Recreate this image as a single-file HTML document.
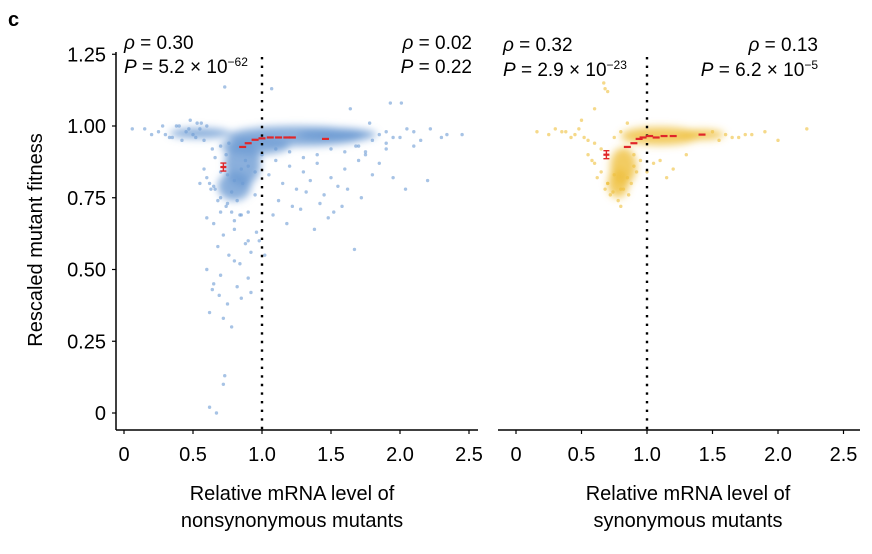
<!DOCTYPE html>
<html><head><meta charset="utf-8"><style>
body{margin:0;background:#fff;}
svg{display:block;font-family:"Liberation Sans",Arial,sans-serif;}
</style></head><body>
<svg id="chart" width="872" height="554" viewBox="0 0 872 554">
<defs><filter id="blur" x="-50%" y="-50%" width="200%" height="200%"><feGaussianBlur stdDeviation="4"/></filter></defs>
<text x="8" y="26" font-size="20" font-weight="bold">c</text>
<text transform="translate(42,240) rotate(-90)" text-anchor="middle" font-size="20">Rescaled mutant fitness</text>
<g id="left"></g>
<g id="right"></g>
</svg>
<script>
const xTicks=[0,0.5,1.0,1.5,2.0,2.5];
const xTickLabels=["0","0.5","1.0","1.5","2.0","2.5"];
const yTicks=[0,0.25,0.5,0.75,1.0,1.25];
const yTickLabels=["0","0.25","0.50","0.75","1.00","1.25"];
const blueX=[0.73,1.07,1.93,2.01,1.64,0.06,2.45,2.34,2.22,2.04,2.2,1.67,0.64,0.69,0.78,0.73,0.72,0.62,0.67,0.15,0.25,0.3,0.38,0.45,0.5,0.55,0.6,0.35,0.42,0.52,1.8,1.9,2.0,2.1,1.75,1.85,1.95,0.58,0.62,0.66,0.7,0.74,0.78,0.82,0.86,0.9,0.95,0.6,0.65,0.7,0.75,0.8,0.85,0.9,0.68,0.72,0.76,0.8,0.84,0.88,0.92,0.96,1.1,1.2,1.3,1.4,1.5,1.6,1.7,1.8,1.15,1.25,1.35,1.45,1.55,1.05,1.12,1.22,1.32,1.42,1.52,1.62,1.72,0.55,0.6,0.65,0.7,0.75,0.8,0.85,0.9,0.95,0.6,0.7,0.8,0.9,0.65,0.75,0.85,0.62,0.72,0.82,0.92,1.0,1.1,1.2,1.3,1.4,1.5,1.6,1.08,1.18,1.28,1.38,1.48,1.58,0.98,1.02,0.66,0.74,0.88,0.64,0.7,0.76,1.7,1.9,0.4,0.48,0.56,1.9,2.05,1.78,0.2,0.28,0.33,0.47,0.53,0.58,1.85,1.95,2.1,2.15,2.3,1.75,1.68,0.68,0.63,0.78,0.84];
const blueY=[1.136,1.13,1.08,1.08,1.06,0.99,0.97,0.97,0.99,0.78,0.81,0.57,0.43,0.41,0.30,0.13,0.10,0.02,0.0,0.99,0.98,0.97,1.0,0.98,0.97,0.99,1.0,0.96,0.95,0.96,0.95,0.94,0.96,0.93,0.9,0.87,0.82,0.85,0.8,0.78,0.75,0.72,0.77,0.74,0.8,0.7,0.76,0.68,0.66,0.7,0.73,0.64,0.69,0.6,0.58,0.62,0.55,0.67,0.52,0.59,0.56,0.63,0.88,0.86,0.84,0.87,0.82,0.85,0.88,0.83,0.8,0.78,0.81,0.76,0.79,0.83,0.74,0.72,0.77,0.73,0.7,0.78,0.75,0.8,0.82,0.79,0.84,0.83,0.81,0.85,0.86,0.84,0.5,0.48,0.53,0.47,0.45,0.38,0.4,0.35,0.33,0.44,0.42,0.9,0.92,0.91,0.89,0.9,0.92,0.91,0.69,0.66,0.71,0.64,0.68,0.72,0.6,0.55,0.89,0.9,0.88,0.92,0.93,0.94,0.93,0.92,1.0,1.02,1.01,0.98,0.99,1.01,0.97,1.0,0.96,0.99,1.01,0.95,0.97,0.96,0.98,0.95,0.96,0.91,0.93,0.74,0.78,0.7,0.69];
const blueBlobX=[1.25,0.86,0.8,0.55,0.95,1.55];
const blueBlobY=[0.965,0.87,0.79,0.975,0.93,0.97];
const blueBlobRX=[0.5,0.13,0.12,0.22,0.25,0.28];
const blueBlobRY=[0.035,0.08,0.05,0.018,0.03,0.022];
const blueMeanX=[0.72,0.86,0.9,0.95,1.0,1.06,1.12,1.18,1.22,1.46];
const blueMeanY=[0.857,0.927,0.94,0.952,0.957,0.96,0.96,0.96,0.96,0.955];
const yelX=[0.67,0.68,0.7,0.6,0.16,0.3,0.35,0.25,0.42,0.48,0.5,0.55,0.6,0.65,0.75,0.8,0.85,2.22,1.7,1.8,1.9,2.0,1.6,1.5,1.3,0.55,0.6,0.65,0.7,0.75,0.8,0.85,0.9,0.95,0.62,0.68,0.72,0.78,0.82,0.88,0.92,0.7,0.74,0.8,0.86,1.0,1.1,1.2,1.15,0.58,0.9,1.05,0.45,0.52,0.38,1.65,1.75,1.55];
const yelY=[1.15,1.13,1.12,1.06,0.98,0.99,0.98,0.97,0.96,0.99,1.02,0.95,0.94,0.92,0.96,0.98,1.01,0.99,0.96,0.97,0.98,0.95,0.97,0.98,0.9,0.9,0.87,0.84,0.8,0.83,0.78,0.82,0.86,0.88,0.82,0.78,0.76,0.74,0.78,0.8,0.84,0.8,0.77,0.72,0.76,0.84,0.88,0.85,0.82,0.88,0.9,0.87,0.97,0.96,0.98,0.96,0.97,0.95];
const yelBlobX=[1.1,0.82,0.78,1.42];
const yelBlobY=[0.965,0.86,0.8,0.97];
const yelBlobRX=[0.3,0.1,0.08,0.17];
const yelBlobRY=[0.032,0.065,0.05,0.018];
const yelMeanX=[0.69,0.85,0.9,0.94,0.97,1.02,1.07,1.13,1.2,1.42];
const yelMeanY=[0.9,0.927,0.94,0.955,0.96,0.965,0.96,0.965,0.965,0.97];

const NS="http://www.w3.org/2000/svg";
function mk(parent,tag,attrs){const e=document.createElementNS(NS,tag);for(const k in attrs)e.setAttribute(k,attrs[k]);parent.appendChild(e);return e;}
const yScale=v=>413-287*v;

function panel(g,x0,xu,axisL,axisR,showY,px,py,bx,by,brx,bry,mx,my,color,stats){
  const xs=v=>x0+xu*v;
  const bg=mk(g,'g',{filter:'url(#blur)'});
  for(let i=0;i<bx.length;i++){
    const e=mk(bg,'ellipse',{cx:xs(bx[i]),cy:yScale(by[i]),rx:brx[i]*xu,ry:bry[i]*287,fill:color,opacity:0.8});
    
    
  }
  for(let i=0;i<px.length;i++){
    const c=mk(g,'circle',{cx:xs(px[i]),cy:yScale(py[i]),r:1.7,fill:color,opacity:0.6});
    
    
  }
  const dl=mk(g,'line',{x1:xs(1),x2:xs(1),y1:57,y2:430,stroke:'#000','stroke-width':2.4,'stroke-dasharray':'2.4 6.2'});
  
  
  for(let i=0;i<mx.length;i++){
    const w=i===0?3:3.5;
    const m=mk(g,'path',{d:`M${xs(mx[i])-w},${yScale(my[i])}h${2*w}`,stroke:'#e0262a','stroke-width':2.2});
    
    
    if(i===0){
      const eb=mk(g,'path',{d:`M${xs(mx[i])-3},${yScale(my[i])-4}h6M${xs(mx[i])},${yScale(my[i])-4}v8M${xs(mx[i])-3},${yScale(my[i])+4}h6`,stroke:'#e0262a','stroke-width':1.4,fill:'none'});
      
      
    }
  }
  const ax=mk(g,'line',{x1:axisL,x2:axisR,y1:430,y2:430,stroke:'#000','stroke-width':1.5});
  
  
  for(let i=0;i<xTicks.length;i++){
    const t=mk(g,'line',{x1:xs(xTicks[i]),x2:xs(xTicks[i]),y1:430,y2:434,stroke:'#000','stroke-width':1.2});
    
    
    const l=mk(g,'text',{x:xs(xTicks[i]),y:461,'text-anchor':'middle','font-size':20});
    l.textContent=xTickLabels[i];
    
    
  }
  if(showY){
    const ay=mk(g,'line',{x1:116,x2:116,y1:52,y2:430,stroke:'#000','stroke-width':1.5});
    
    
    for(let i=0;i<yTicks.length;i++){
      const t=mk(g,'line',{x1:112,x2:116,y1:yScale(yTicks[i]),y2:yScale(yTicks[i]),stroke:'#000','stroke-width':1.2});
      
      
      const l=mk(g,'text',{x:106,y:yScale(yTicks[i])+7,'text-anchor':'end','font-size':20});
      l.textContent=yTickLabels[i];
      
      
    }
  }
  for(const s of stats){
    const t=mk(g,'text',{x:s.x,y:s.y,'text-anchor':s.a,'font-size':19});
    t.innerHTML=s.h;
    
    
  }
}
panel(document.getElementById('left'),124,138,116,478,true,blueX,blueY,blueBlobX,blueBlobY,blueBlobRX,blueBlobRY,blueMeanX,blueMeanY,'#6d9bd3',[
 {x:124,y:49,a:'start',h:'<tspan font-style="italic">ρ</tspan> = 0.30',n:'left-rho-low'},
 {x:124,y:73,a:'start',h:'<tspan font-style="italic">P</tspan> = 5.2 × 10<tspan dy="-7" font-size="12">−62</tspan>',n:'left-p-low'},
 {x:472,y:49,a:'end',h:'<tspan font-style="italic">ρ</tspan> = 0.02',n:'left-rho-high'},
 {x:472,y:73,a:'end',h:'<tspan font-style="italic">P</tspan> = 0.22',n:'left-p-high'}]);
panel(document.getElementById('right'),516,131,498,860,false,yelX,yelY,yelBlobX,yelBlobY,yelBlobRX,yelBlobRY,yelMeanX,yelMeanY,'#efbf3c',[
 {x:503,y:51,a:'start',h:'<tspan font-style="italic">ρ</tspan> = 0.32',n:'right-rho-low'},
 {x:503,y:76,a:'start',h:'<tspan font-style="italic">P</tspan> = 2.9 × 10<tspan dy="-7" font-size="12">−23</tspan>',n:'right-p-low'},
 {x:818,y:51,a:'end',h:'<tspan font-style="italic">ρ</tspan> = 0.13',n:'right-rho-high'},
 {x:818,y:76,a:'end',h:'<tspan font-style="italic">P</tspan> = 6.2 × 10<tspan dy="-7" font-size="12">−5</tspan>',n:'right-p-high'}]);
const svg=document.getElementById('chart');
[[292,500,'Relative mRNA level of','left-x-title-1'],[292,527,'nonsynonymous mutants','left-x-title-2'],[688,500,'Relative mRNA level of','right-x-title-1'],[688,527,'synonymous mutants','right-x-title-2']].forEach(a=>{
  const t=mk(svg,'text',{x:a[0],y:a[1],'text-anchor':'middle','font-size':20});
  t.textContent=a[2];
  
  
});
</script>
</body></html>
